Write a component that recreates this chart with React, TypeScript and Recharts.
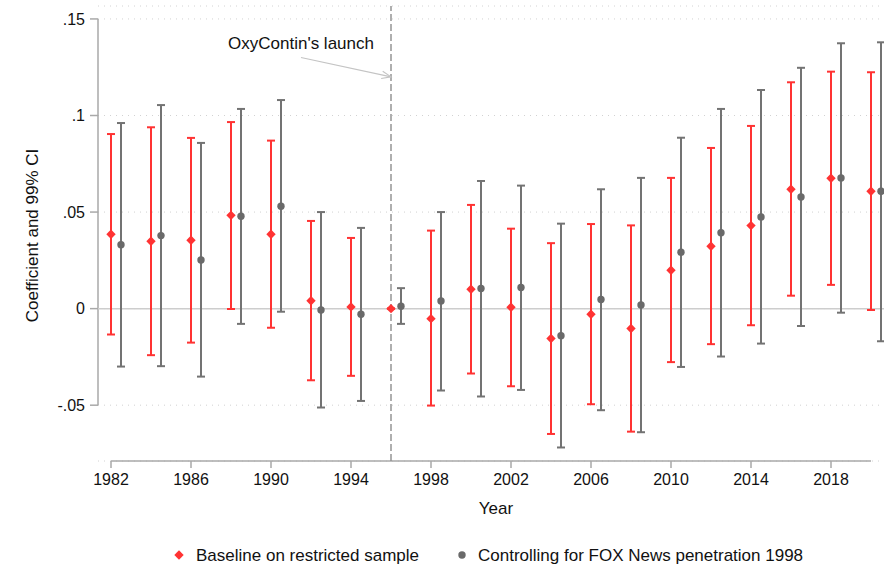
import React from 'react';
import {
  ScatterChart,
  Scatter,
  XAxis,
  YAxis,
  CartesianGrid,
  ReferenceLine,
  ReferenceDot,
  ErrorBar,
  Legend,
  Label,
} from 'recharts';

// ---- data ----
const years = [1982, 1984, 1986, 1988, 1990, 1992, 1994, 1996, 1998, 2000, 2002, 2004, 2006, 2008, 2010, 2012, 2014, 2016, 2018, 2020];

const baseCoef = [0.0385, 0.0349, 0.0354, 0.0483, 0.0385, 0.0041, 0.0009, 0, -0.0052, 0.01, 0.0007, -0.0155, -0.0029, -0.0103, 0.0199, 0.0323, 0.043, 0.0618, 0.0675, 0.0608];
const baseLow = [-0.0134, -0.0241, -0.0176, -0.0002, -0.0099, -0.0371, -0.0348, 0, -0.0502, -0.0336, -0.0402, -0.0649, -0.0495, -0.0637, -0.0277, -0.0184, -0.0086, 0.0067, 0.0123, -0.0007];
const baseHigh = [0.0904, 0.0939, 0.0884, 0.0966, 0.087, 0.0454, 0.0366, 0, 0.0404, 0.0537, 0.0414, 0.0339, 0.0438, 0.0431, 0.0677, 0.0832, 0.0946, 0.1172, 0.1227, 0.1224];

const foxCoef = [0.0331, 0.0378, 0.0252, 0.0478, 0.053, -0.0007, -0.0029, 0.0012, 0.004, 0.0104, 0.0109, -0.014, 0.0047, 0.0019, 0.0292, 0.0393, 0.0475, 0.0578, 0.0677, 0.0608];
const foxLow = [-0.03, -0.0298, -0.0352, -0.0079, -0.0016, -0.0512, -0.0478, -0.0079, -0.0424, -0.0455, -0.0421, -0.0719, -0.0526, -0.064, -0.0302, -0.0248, -0.0181, -0.009, -0.0021, -0.0169];
const foxHigh = [0.0961, 0.1054, 0.0858, 0.1034, 0.108, 0.05, 0.0418, 0.0106, 0.05, 0.0661, 0.0637, 0.044, 0.0618, 0.0677, 0.0885, 0.1034, 0.1132, 0.1247, 0.1374, 0.1379];

const foxDodge = 0.5; // horizontal offset of the second series (in years)

const xTicks = [1982, 1986, 1990, 1994, 1998, 2002, 2006, 2010, 2014, 2018];
const yTicks = [-0.05, 0, 0.05, 0.1, 0.15];
const yTickLabels: Record<string, string> = { '-0.05': '-.05', '0': '0', '0.05': '.05', '0.1': '.1', '0.15': '.15' };

const launchYear = 1996;
const annotationText = "OxyContin's launch";
const annotationPos = { x: 1991.5, y: 0.1375 };
const arrowFrom = { x: 1991.5, y: 0.13 };
const arrowTo = { x: 1996, y: 0.12 };

const seriesNames = ['Baseline on restricted sample', 'Controlling for FOX News penetration 1998'];

// ---- derived tables ----
const baseData = years.map((yr, i) => ({
  x: yr,
  y: baseCoef[i],
  err: [baseCoef[i] - baseLow[i], baseHigh[i] - baseCoef[i]],
}));
const foxData = years.map((yr, i) => ({
  x: yr + foxDodge,
  y: foxCoef[i],
  err: [foxCoef[i] - foxLow[i], foxHigh[i] - foxCoef[i]],
}));

// ---- style ----
const FONT = '"Liberation Sans", Arial, Helvetica, sans-serif';
const RED = '#ff3333';
const GRAY = '#6a6a6a';
const GRAY_BAR = '#737373';
const AXIS = '#a9a9a9';

const X_DOMAIN: [number, number] = [1981.35, 2020.65];
const Y_DOMAIN: [number, number] = [-0.0789, 0.1567];

const Diamond = (props: any) => {
  const { cx, cy } = props;
  if (cx == null || cy == null) return null;
  const r = 4.7;
  return <polygon points={`${cx},${cy - r} ${cx + r},${cy} ${cx},${cy + r} ${cx - r},${cy}`} fill={RED} />;
};

const Dot = (props: any) => {
  const { cx, cy } = props;
  if (cx == null || cy == null) return null;
  return <circle cx={cx} cy={cy} r={3.7} fill={GRAY} />;
};

const ArrowShape = (props: any) => {
  const { x1, y1, x2, y2 } = props;
  if ([x1, y1, x2, y2].some((v) => v == null || isNaN(v))) return null;
  const ang = Math.atan2(y2 - y1, x2 - x1);
  const len = 10;
  const spread = 0.38;
  const ax = x2 - len * Math.cos(ang - spread);
  const ay = y2 - len * Math.sin(ang - spread);
  const bx = x2 - len * Math.cos(ang + spread);
  const by = y2 - len * Math.sin(ang + spread);
  return (
    <g stroke="#c4c4c4" strokeWidth={1.1} fill="none">
      <line x1={x1} y1={y1} x2={x2} y2={y2} />
      <polyline points={`${ax},${ay} ${x2},${y2} ${bx},${by}`} />
    </g>
  );
};

const renderLegend = () => (
  <div style={{ position: 'relative', width: 884, height: 30 }}>
    <svg width={884} height={30} style={{ position: 'absolute', left: 0, top: 0, overflow: 'visible' }}>
      <polygon points="179,10.3 183.7,15 179,19.7 174.3,15" fill={RED} />
      <circle cx={462} cy={15} r={3.7} fill={GRAY} />
      <text x={196} y={21} fontFamily={FONT} fontSize={17} fill="#111">
        {seriesNames[0]}
      </text>
      <text x={478} y={21} fontFamily={FONT} fontSize={17} fill="#111">
        {seriesNames[1]}
      </text>
    </svg>
  </div>
);

export default function App() {
  return (
    <div style={{ position: 'absolute', left: 0, top: 0, width: 884, height: 568, background: '#fff' }}>
      <ScatterChart width={884} height={568} margin={{ top: 6, right: 0, bottom: 17, left: 0 }}>
        <CartesianGrid vertical={false} stroke="#d2d2d2" strokeDasharray="1 5" strokeWidth={1} />
        <XAxis
          type="number"
          dataKey="x"
          domain={X_DOMAIN}
          allowDataOverflow
          ticks={xTicks}
          interval={0}
          height={60}
          axisLine={false}
          tickLine={{ stroke: AXIS, strokeWidth: 1.5 }}
          tickSize={7}
          tickMargin={6}
          tick={{ fill: '#111', fontSize: 16, fontFamily: FONT }}
        >
          <Label
            content={(p: any) => {
              const vb = p.viewBox || {};
              return (
                <text x={vb.x + vb.width / 2 + 5} y={vb.y + 53} textAnchor="middle" fontFamily={FONT} fontSize={17} fill="#111">
                  Year
                </text>
              );
            }}
          />
        </XAxis>
        <YAxis
          type="number"
          dataKey="y"
          domain={Y_DOMAIN}
          allowDataOverflow
          ticks={yTicks}
          interval={0}
          width={98}
          axisLine={false}
          tickLine={{ stroke: AXIS, strokeWidth: 1.5 }}
          tickSize={8}
          tickMargin={5}
          tickFormatter={(v: number) => yTickLabels[String(v)] ?? String(v)}
          tick={{ fill: '#111', fontSize: 16, fontFamily: FONT }}
        >
          <Label
            content={(p: any) => {
              const vb = p.viewBox || {};
              const cx = 38;
              const cy = vb.y + vb.height / 2 + 2;
              return (
                <text x={cx} y={cy} transform={`rotate(-90, ${cx}, ${cy})`} textAnchor="middle" fontFamily={FONT} fontSize={17} fill="#111">
                  Coefficient and 99% CI
                </text>
              );
            }}
          />
        </YAxis>

        {/* axis lines drawn like Stata: only across the labelled range */}
        <ReferenceLine
          segment={[{ x: X_DOMAIN[0], y: -0.05 }, { x: X_DOMAIN[0], y: 0.15 }]}
          stroke={AXIS}
          strokeWidth={1.5}
          ifOverflow="visible"
        />
        <ReferenceLine
          segment={[{ x: 1982, y: Y_DOMAIN[0] }, { x: 2020, y: Y_DOMAIN[0] }]}
          stroke={AXIS}
          strokeWidth={1.5}
          ifOverflow="visible"
        />
        <ReferenceLine y={0} stroke="#cdcdcd" strokeWidth={1.5} ifOverflow="visible" />
        <ReferenceLine x={launchYear} stroke="#8e8e8e" strokeWidth={1.4} strokeDasharray="7 3" ifOverflow="visible" />
        <ReferenceLine
          segment={[arrowFrom, arrowTo]}
          ifOverflow="visible"
          shape={(p: any) => <ArrowShape {...p} />}
        />
        <ReferenceDot
          x={annotationPos.x}
          y={annotationPos.y}
          r={0}
          fill="none"
          stroke="none"
          ifOverflow="visible"
          label={{ value: annotationText, position: 'center', fontFamily: FONT, fontSize: 17, fill: '#111' }}
        />

        <Scatter name={seriesNames[0]} data={baseData} shape={(p: any) => <Diamond {...p} />} isAnimationActive={false}>
          <ErrorBar dataKey="err" direction="y" width={4} stroke={RED} strokeWidth={2} isAnimationActive={false} />
        </Scatter>
        <Scatter name={seriesNames[1]} data={foxData} shape={(p: any) => <Dot {...p} />} isAnimationActive={false}>
          <ErrorBar dataKey="err" direction="y" width={4} stroke={GRAY_BAR} strokeWidth={2} isAnimationActive={false} />
        </Scatter>

        <Legend
          verticalAlign="bottom"
          height={30}
          content={renderLegend}
          wrapperStyle={{ position: 'absolute', left: 0, top: 540, width: 884, height: 30, margin: 0, padding: 0 }}
        />
      </ScatterChart>
    </div>
  );
}
